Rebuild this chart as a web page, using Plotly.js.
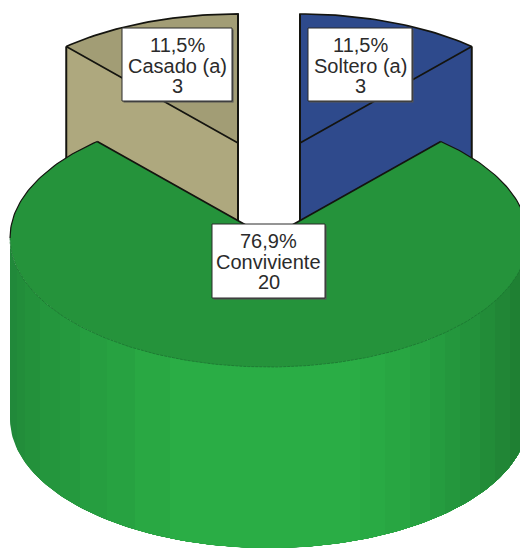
<!DOCTYPE html>
<html>
<head>
<meta charset="utf-8">
<script src="https://cdn.plot.ly/plotly-3.0.1.min.js"></script>
<style>html,body{margin:0;padding:0;background:#fff;overflow:hidden}#c{width:520px;height:549px}</style>
</head>
<body>
<div id="c"></div>
<script>
// Data
var categories = ['Soltero (a)', 'Conviviente', 'Casado (a)'];
var counts = [3, 20, 3];
var percents = ['11,5%', '76,9%', '11,5%'];

// Styles
var topColors = ['#2e4a8c', '#25933b', '#a29d75'];
var wallColors = ['#2f4a8c', '#2aab44', '#aea87e'];
var bandStops = [10, 17, 25, 40, 60, 80, 107, 135, 170, 360, 385, 410, 430, 445, 460, 480, 495, 510];
var bandColors = ['#21893a', '#228d3a', '#23913b', '#24963d', '#25993e', '#269e40', '#27a241', '#29a843', '#2aad45', '#29aa44', '#28a642', '#27a141', '#259c3f', '#24973d', '#23923b', '#228c38', '#218636', '#1f8033'];
var lineOffsets = [17, 38, 58];

// Geometry of the drawing
var cx = 269, cy = 238, rx = 259, ry = 129, depth = 181;
var explode = [[31, -95], [0, 0], [-31, -95]];

var total = counts.reduce(function (a, b) { return a + b; }, 0);
var angles = [0];
counts.forEach(function (c, i) { angles.push(angles[i] + c / total * 2 * Math.PI); });

function pt(ox, oy, t) { return [ox + rx * Math.sin(t), oy - ry * Math.cos(t)]; }
function arc(ox, oy, a, b) {
  var pts = [], n = Math.max(4, Math.ceil(Math.abs(b - a) / 0.02));
  for (var i = 0; i <= n; i++) pts.push(pt(ox, oy, a + (b - a) * i / n));
  return pts;
}
function poly(pts, color) {
  return { type: 'scatter', mode: 'lines', x: pts.map(function (p) { return p[0]; }), y: pts.map(function (p) { return p[1]; }),
    fill: 'toself', fillcolor: color, line: { width: 0, color: color }, hoverinfo: 'skip', showlegend: false };
}
function stroke(pts, color, width, dash) {
  return { type: 'scatter', mode: 'lines', x: pts.map(function (p) { return p[0]; }), y: pts.map(function (p) { return p[1]; }),
    line: { color: color, width: width, dash: dash || 'solid' }, hoverinfo: 'skip', showlegend: false };
}

var traces = [];
var edge = '#14140f';

// Exploded back slices (Soltero = 0, Casado = 2)
[0, 2].forEach(function (i) {
  var ox = cx + explode[i][0], oy = cy + explode[i][1];
  var a = angles[i], b = angles[i + 1];
  var rim = i === 0 ? b : a;
  var inner = i === 0 ? a : b;
  var c = [ox, oy], r = pt(ox, oy, rim), n = pt(ox, oy, inner);
  traces.push(poly([c, r, [r[0], r[1] + depth], [c[0], c[1] + depth]], wallColors[i]));
  traces.push(poly([n, c, [c[0], c[1] + depth], [n[0], n[1] + depth]], wallColors[i]));
  traces.push(poly([c].concat(arc(ox, oy, a, b)), topColors[i]));
  traces.push(stroke([c].concat(arc(ox, oy, a, b)).concat([c]), edge, 1.7));
  traces.push(stroke([n, [n[0], c[1] + depth]], edge, 2));
  traces.push(stroke([r, [r[0], r[1] + depth]], edge, 2));
});

// Green wall: shaded vertical bands, front half of the cylinder
var fa = Math.PI / 2, fb = 3 * Math.PI / 2;
function xToT(x) { return Math.PI - Math.asin(Math.max(-1, Math.min(1, (x - cx) / rx))); }
bandStops.forEach(function (s, i) {
  var start = i === 0 ? fb : xToT(s);
  var f = arc(cx, cy, start, fa), g = arc(cx, cy + depth, fa, start);
  traces.push(poly(f.concat(g), bandColors[i]));
});

// Green top
var ga = angles[1], gb = angles[2];
var gc = [cx, cy];
traces.push(poly([gc].concat(arc(cx, cy, ga, gb)), topColors[1]));
traces.push(stroke(arc(cx, cy, ga, fa), edge, 1.2));
traces.push(stroke(arc(cx, cy, fb, gb), edge, 1.2));
traces.push(stroke(arc(cx, cy, fa, fb), '#1a6e2e', 0.7, '3px,1px'));
traces.push(stroke([pt(cx, cy, gb), gc, pt(cx, cy, ga)], edge, 1.7));

// Labels
var boxes = [[308, 28, 412, 101], [212, 224, 325, 298], [122, 28, 232, 101]];
var shapes = [], annotations = [];
categories.forEach(function (name, i) {
  var b = boxes[i];
  shapes.push({ type: 'rect', xref: 'x', yref: 'y', x0: b[0] + 1.5, y0: b[1] + 1.5, x1: b[2] + 1.5, y1: b[3] + 1.5, fillcolor: '#555', line: { width: 0 } });
  shapes.push({ type: 'rect', xref: 'x', yref: 'y', x0: b[0], y0: b[1], x1: b[2], y1: b[3], fillcolor: '#ffffff', line: { color: '#2a2a2a', width: 1 } });
  [percents[i], name, String(counts[i])].forEach(function (t, j) {
    annotations.push({ xref: 'x', yref: 'y', x: (b[0] + b[2]) / 2, y: b[1] + lineOffsets[j], text: t, showarrow: false,
      xanchor: 'center', yanchor: 'middle', font: { family: 'Liberation Sans, Arial, sans-serif', size: 20, color: '#2b2b2b' }, borderpad: 0 });
  });
});

Plotly.newPlot('c', traces, {
  width: 520, height: 549,
  margin: { l: 0, r: 0, t: 0, b: 0 },
  paper_bgcolor: '#fff', plot_bgcolor: '#fff',
  xaxis: { range: [0, 520], visible: false, fixedrange: true },
  yaxis: { range: [549, 0], visible: false, fixedrange: true },
  showlegend: false, hovermode: false,
  shapes: shapes, annotations: annotations
}, { staticPlot: true, displayModeBar: false });
</script>
</body>
</html>
